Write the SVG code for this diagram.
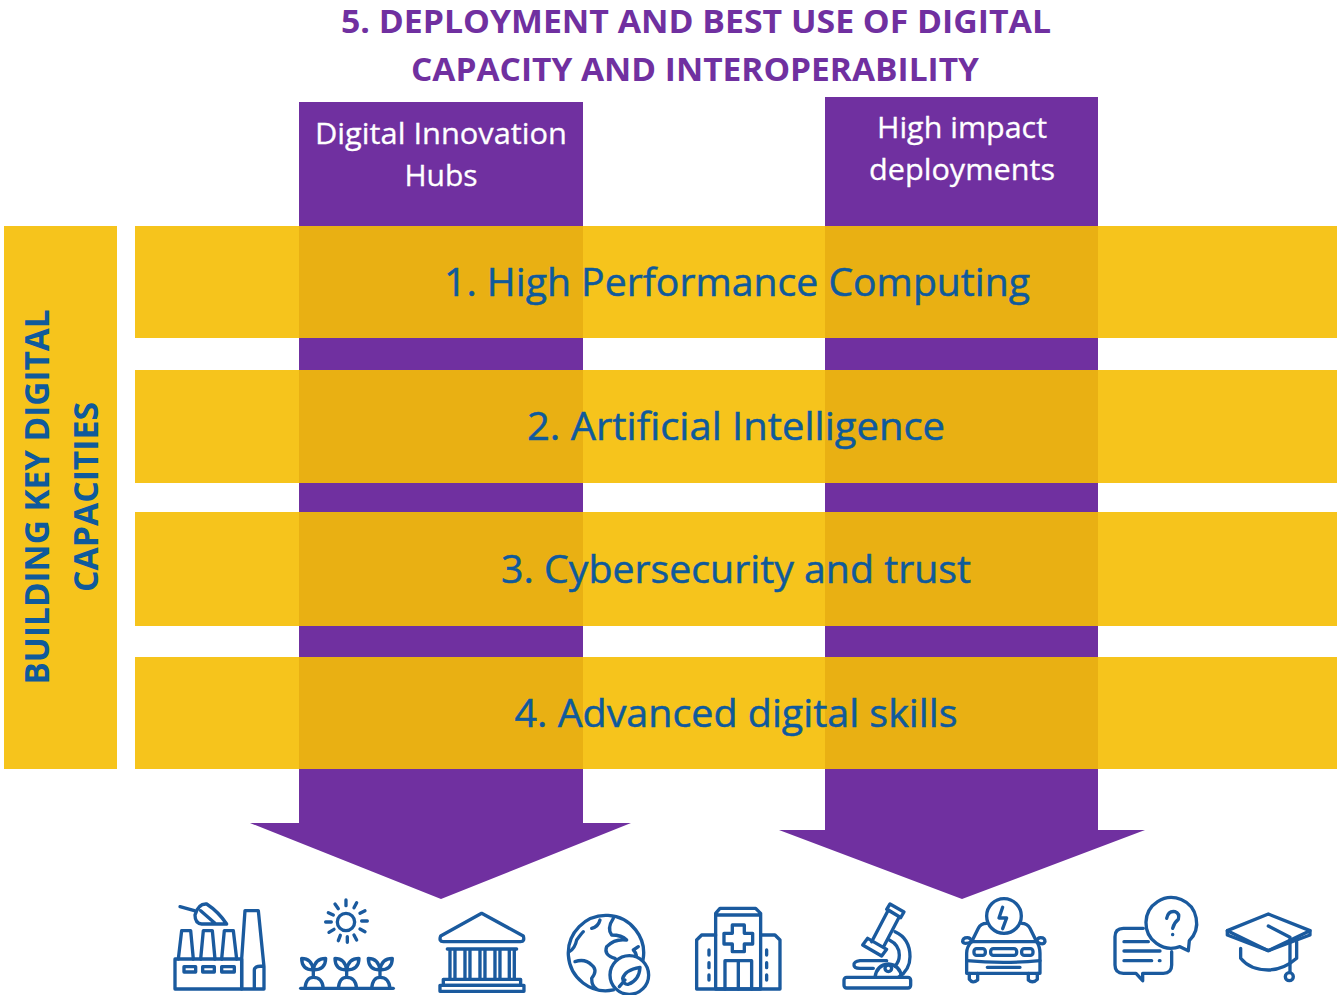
<svg xmlns="http://www.w3.org/2000/svg" width="1337" height="995" viewBox="0 0 1337 995">
<style>
text{font-family:"Open Sans","Noto Sans","Liberation Sans",sans-serif}
.arrow{fill:#7030A0}
.band{fill:#F6C41C}
.over{fill:#E9B013}
.title{fill:#7030A0;font-size:33px;font-weight:700;text-anchor:middle}
.head{fill:#fff;stroke:#fff;stroke-width:.3;font-size:30px;text-anchor:middle}
.lab{fill:#0F5A9C;stroke:#0F5A9C;stroke-width:.5;font-size:38px;text-anchor:middle}
.side{fill:#0F5A9C;font-size:34px;font-weight:700;text-anchor:middle}
.ic{fill:none;stroke:#1A5A9E;stroke-width:10;stroke-linecap:round;stroke-linejoin:round}
</style>
<rect width="1337" height="995" fill="#fff"/>
<g id="title">
<text class="title" x="696" y="33" textLength="710" lengthAdjust="spacingAndGlyphs">5. DEPLOYMENT AND BEST USE OF DIGITAL</text>
<text class="title" x="695" y="81" textLength="568" lengthAdjust="spacingAndGlyphs">CAPACITY AND INTEROPERABILITY</text>
</g>
<g id="connectors">
<polygon id="arrow-dih" class="arrow" points="299,102 583,102 583,823 631,823 441,899 250,823 299,823"/>
<polygon id="arrow-hid" class="arrow" points="825,97 1098,97 1098,830 1145,830 962,899 779,830 825,830"/>
</g>
<g id="node-dih-label">
<text class="head" x="441" y="144" textLength="252" lengthAdjust="spacingAndGlyphs">Digital Innovation</text>
<text class="head" x="441" y="186">Hubs</text>
</g>
<g id="node-hid-label">
<text class="head" x="962" y="138" textLength="170" lengthAdjust="spacingAndGlyphs">High impact</text>
<text class="head" x="962" y="180" textLength="186" lengthAdjust="spacingAndGlyphs">deployments</text>
</g>
<g id="node-side">
<rect class="band" x="4" y="226" width="113" height="543"/>
<text class="side" transform="translate(49 497) rotate(-90)" textLength="375" lengthAdjust="spacingAndGlyphs">BUILDING KEY DIGITAL</text>
<text class="side" transform="translate(98 497) rotate(-90)" textLength="190" lengthAdjust="spacingAndGlyphs">CAPACITIES</text>
</g>
<g id="node-1">
<rect class="band" x="135" y="226" width="1202" height="112"/>
<rect class="over" x="299" y="226" width="284" height="112"/><rect class="over" x="825" y="226" width="273" height="112"/>
<text class="lab" x="737" y="296" textLength="586" lengthAdjust="spacingAndGlyphs">1. High Performance Computing</text>
</g>
<g id="node-2">
<rect class="band" x="135" y="370" width="1202" height="113"/>
<rect class="over" x="299" y="370" width="284" height="113"/><rect class="over" x="825" y="370" width="273" height="113"/>
<text class="lab" x="736" y="440" textLength="418" lengthAdjust="spacingAndGlyphs">2. Artificial Intelligence</text>
</g>
<g id="node-3">
<rect class="band" x="135" y="512" width="1202" height="114"/>
<rect class="over" x="299" y="512" width="284" height="114"/><rect class="over" x="825" y="512" width="273" height="114"/>
<text class="lab" x="736" y="583" textLength="470" lengthAdjust="spacingAndGlyphs">3. Cybersecurity and trust</text>
</g>
<g id="node-4">
<rect class="band" x="135" y="657" width="1202" height="112"/>
<rect class="over" x="299" y="657" width="284" height="112"/><rect class="over" x="825" y="657" width="273" height="112"/>
<text class="lab" x="736" y="727" textLength="443" lengthAdjust="spacingAndGlyphs">4. Advanced digital skills</text>
</g>
<g id="icon-factory" class="ic" transform="translate(160 890) scale(.3333)">
<rect x="45" y="207" width="200" height="90"/>
<path d="M55 207L65 122H92L100 207M122 207L130 122H157L165 207M185 207L193 122H220L230 207"/>
<rect x="72" y="230" width="35" height="16"/><rect x="128" y="230" width="35" height="16"/><rect x="185" y="230" width="38" height="16"/>
<path d="M245 297V207L255 62H295L312 230V297H245M283 297V240Q283 228 310 228"/>
<path d="M60 50L103 62M105 75Q115 40 140 42Q175 65 200 102H125Q105 100 105 75ZM122 62L165 100"/>
</g>
<g id="icon-agri" class="ic" transform="translate(160 890) scale(.3333)">
<circle cx="558" cy="96" r="26"/>
<path d="M558 30V47M590 38L582 53M615 62L600 70M622 93H605M615 125L600 117M590 150L582 135M562 157V140M535 152L541 136M507 127L522 118M497 96H514M505 68L520 75M525 42L535 56"/>
<path d="M422 295H700"/>
<path d="M460 262V240M460 240Q425 240 425 205Q455 205 460 240Q465 205 497 205Q497 240 460 240M435 295Q438 262 460 262Q487 262 490 295"/>
<path d="M560 262V240M560 240Q525 240 525 205Q555 205 560 240Q565 205 597 205Q597 240 560 240M535 295Q538 262 560 262Q587 262 590 295"/>
<path d="M660 262V240M660 240Q625 240 625 205Q655 205 660 240Q665 205 697 205Q697 240 660 240M635 295Q638 262 660 262Q687 262 690 295"/>
</g>
<g id="icon-temple" class="ic" transform="translate(160 890) scale(.3333)">
<path d="M965 70L1090 138Q1095 155 1082 155H850Q836 155 842 138Z"/>
<path d="M862 177H1070M870 177V265M885 177V265M915 177V265M930 177V265M960 177V265M975 177V265M1005 177V265M1020 177V265M1048 177V265M1063 177V265"/>
<rect x="850" y="268" width="232" height="18"/><rect x="840" y="286" width="252" height="18"/>
</g>
<g id="icon-globe" class="ic" transform="translate(550 890) scale(.3333)">
<path d="M190 300A113 113 0 1 1 279 210"/>
<path d="M58 185Q75 175 80 150Q95 130 100 125M125 115Q145 110 150 90M75 215Q105 205 125 225Q145 240 125 265Q125 290 140 297M190 85Q170 115 185 135Q215 135 230 150Q195 145 170 170Q160 195 195 205Q205 215 210 215M265 170L250 180Q265 195 255 212"/>
<circle cx="238" cy="255" r="58" fill="#fff"/>
<path d="M208 290L225 270M218 265Q225 240 270 232Q268 270 235 283Q220 285 218 265Z"/>
</g>
<g id="icon-hospital" class="ic" transform="translate(550 890) scale(.3333)">
<path d="M497 297V70L510 55H617L632 70V297ZM497 75H632"/>
<path d="M547 105H583V130H608V162H583V185H547V162H522V130H547Z"/>
<path d="M525 297V212H605V297M565 212V297"/>
<path d="M497 135H455L440 150V297H690V150L675 135H632"/>
<path d="M477 180V195M477 218V233M477 255V270M650 180V195M650 218V233M650 255V270"/>
</g>
<g id="icon-microscope" class="ic" transform="translate(830 890) scale(.3333)">
<rect x="42" y="262" width="200" height="32" rx="8"/>
<path d="M98 165L155 198L170 178L113 145ZM125 155L175 60L208 80L160 172M180 42L222 66L212 83L170 58Z"/>
<path d="M195 125Q240 145 240 200Q240 240 205 262M178 150Q208 165 208 195Q208 215 195 228"/>
<path d="M170 212H90Q70 215 72 225Q72 235 90 235H130"/>
<path d="M135 262Q140 225 175 222Q210 225 215 262"/><circle cx="175" cy="235" r="10"/>
</g>
<g id="icon-car" class="ic" transform="translate(830 890) scale(.3333)">
<circle cx="522" cy="78" r="52"/>
<path d="M518 52L507 84H530L518 116"/>
<path d="M470 100Q452 100 445 115L425 155M575 100Q592 100 600 115L620 155"/>
<path d="M425 155H620M425 155Q402 165 398 155Q398 143 412 143Q422 143 425 155M620 155Q640 168 645 155Q645 143 632 143Q622 143 620 155"/>
<path d="M425 155Q410 170 410 190V250H630V190Q630 170 620 155"/>
<path d="M410 212Q520 222 630 212"/>
<rect x="432" y="176" width="34" height="20" rx="8"/><rect x="482" y="176" width="78" height="20" rx="8"/><rect x="575" y="176" width="34" height="20" rx="8"/>
<path d="M472 232H570M418 250V268Q428 282 443 270V250M595 250V270Q608 282 622 268V250"/>
</g>
<g id="icon-chat" class="ic" transform="translate(1100 890) scale(.3333)">
<path d="M268 152A76 76 0 1 0 240 170L265 182Z"/>
<path d="M200 85Q205 62 225 65Q240 70 235 88Q222 98 218 115M218 133V134"/>
<path d="M130 115H70Q45 115 45 140V225Q45 250 70 250H108L128 272V250H190Q215 250 215 225V185"/>
<path d="M72 155H145M72 183H180M72 212H155M178 212H180"/>
</g>
<g id="icon-cap" class="ic" transform="translate(1100 890) scale(.3333)">
<path d="M382 122L505 72L630 122L505 182Z"/>
<path d="M382 122V135L505 182L630 135V122"/>
<path d="M505 108L570 142V245"/>
<circle cx="568" cy="260" r="12"/>
<path d="M422 175V205Q450 240 505 240Q550 240 590 205V155"/>
</g>
</svg>
